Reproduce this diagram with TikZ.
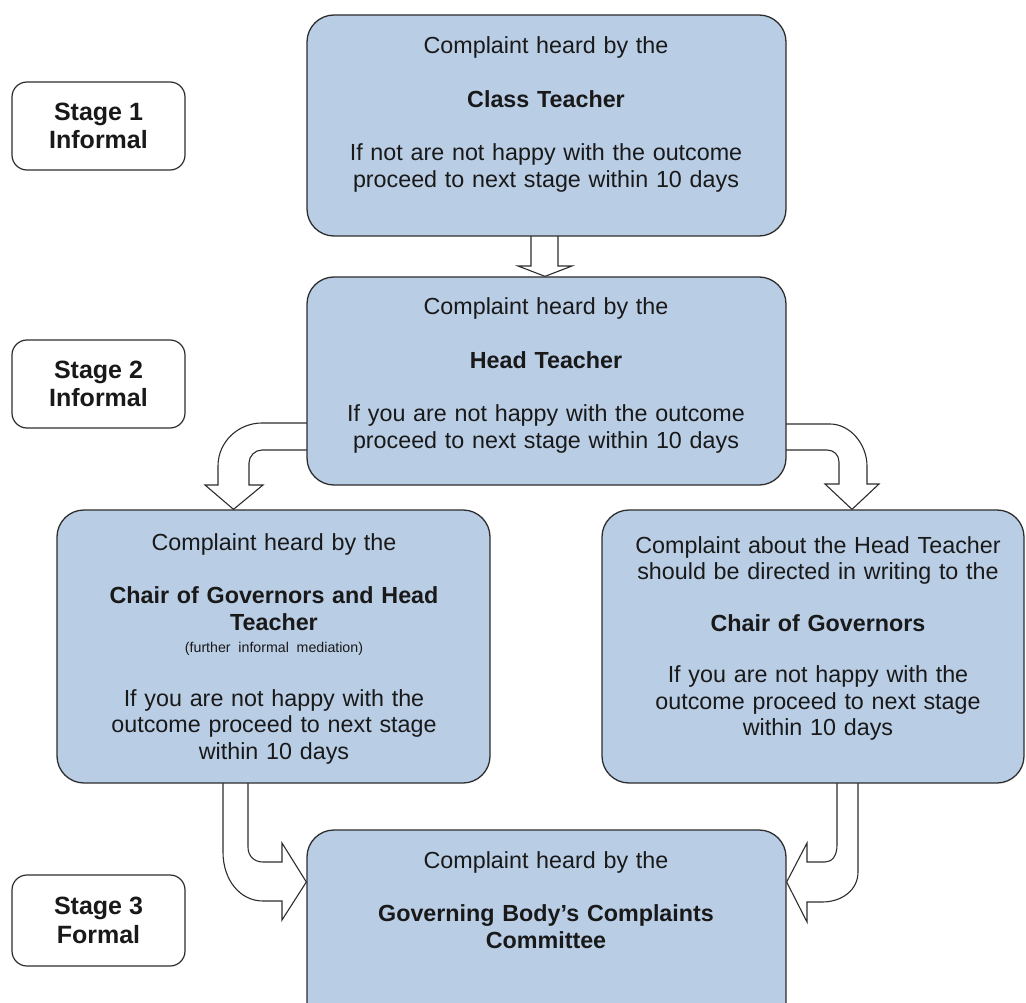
\documentclass[tikz,border=0pt]{standalone}
\usepackage{fontspec}
\setmainfont{Liberation Sans}
\usepackage{tikz}
\usetikzlibrary{backgrounds}
\definecolor{panelblue}{RGB}{185,205,229}
\definecolor{edgegray}{RGB}{45,45,45}
\definecolor{inkgray}{RGB}{25,25,25}
\newcommand{\boxsize}{\fontsize{23.3pt}{26.5pt}\selectfont}
\newcommand{\notesize}{\fontsize{14.2pt}{17pt}\selectfont}
\newcommand{\stagesize}{\fontsize{25pt}{28.5pt}\selectfont\bfseries}
\tikzset{
x=1pt, y=-1pt, % one unit is one pixel of the layout, y runs downwards
panel/.style={rectangle, draw=edgegray, fill=panelblue, line width=1.3pt, rounded corners=27pt, inner sep=0pt}, % the blue boxes
stagebox/.style={rectangle, draw=edgegray, fill=white, line width=1.2pt, rounded corners=15pt, minimum width=173pt, minimum height=88pt, inner sep=0pt, align=center, font=\stagesize, text=inkgray}, % the stage labels
boxtext/.style={anchor=base, inner sep=0pt, text width=440pt, align=center, font=\boxsize, text=inkgray}, % text set in a box
blockarrow/.style={draw=edgegray, fill=white, line width=1.1pt, line join=miter}, % hollow arrows
}
\begin{document}
\begin{tikzpicture}
  \clip (0,0) rectangle (1026,1003);

  % stages
  \node[stagebox] (stage1) at (98.5,126) {Stage 1\\Informal};
  \node[stagebox] (stage2) at (98.5,384) {Stage 2\\Informal};
  \node[stagebox, minimum height=91pt] (stage3) at (98.5,920.5) {Stage 3\\Formal};

  % boxes
  \node[panel, minimum width=479pt, minimum height=221pt] (class) at (546.5,125.5) {};
  \node[panel, minimum width=479pt, minimum height=208pt] (head) at (546.5,381) {};
  \node[panel, minimum width=433pt, minimum height=273pt] (chair) at (273.5,646.5) {};
  \node[panel, minimum width=422pt, minimum height=273pt] (gov) at (813,646.5) {};
  \node[panel, minimum width=479pt, minimum height=210pt] (committee) at (546.5,935) {};

  \node[boxtext] (class-txt) at (546,54) {Complaint heard by the\\[27pt]
    \textbf{Class Teacher}\\[27pt]
    If not are not happy with the outcome\\proceed to next stage within 10 days};
  \node[boxtext] (head-txt) at (546,315) {Complaint heard by the\\[27pt]
    \textbf{Head Teacher}\\[27pt]
    If you are not happy with the outcome\\proceed to next stage within 10 days};
  \node[boxtext] (chair-txt) at (274,550) {Complaint heard by the\\[27pt]
    \textbf{Chair of Governors and Head}\\\textbf{Teacher}\\[-4pt]
    {\notesize (further informal mediation)}\\[27pt]
    If you are not happy with the\\outcome proceed to next stage\\within 10 days};
  \node[boxtext] (gov-txt) at (818,553) {Complaint about the Head Teacher\\should be directed in writing to the\\[25pt]
    \textbf{Chair of Governors}\\[25pt]
    If you are not happy with the\\outcome proceed to next stage\\within 10 days};
  \node[boxtext] (committee-txt) at (546,868) {Complaint heard by the\\[27pt]
    \textbf{Governing Body's Complaints}\\\textbf{Committee}};

  % arrows
  \begin{scope}[on background layer]
    \draw[blockarrow] (531,226) -- (531,266) -- (518,266) -- (head.north -| 545,0)
      -- (572,266) -- (558,266) -- (558,226) -- cycle;
    \draw[blockarrow] (317,423) -- (262,423) .. controls (238,423) and (218,442) .. (218,466)
      -- (218,485) -- (205,485) -- (chair.north -| 233.5,0) -- (263,485) -- (249,485)
      -- (249,463) .. controls (249,456) and (255,450) .. (262,450) -- (317,450) -- cycle;
    \draw[blockarrow] (776,424) -- (830,424) .. controls (850,424) and (867,444) .. (867,466)
      -- (867,484) -- (879,484) -- (gov.north -| 852,0) -- (825,484) -- (839,484)
      -- (839,462) .. controls (839,455) and (834,450) .. (827,450) -- (776,450) -- cycle;
    \draw[blockarrow] (223,773) -- (223,852) .. controls (223,880) and (240,901) .. (263,901)
      -- (282,901) -- (282,920) -- (committee.west |- 0,882) -- (282,843) -- (282,862)
      -- (263,862) .. controls (254,862) and (248,856) .. (248,847) -- (248,773) -- cycle;
    \draw[blockarrow] (858,773) -- (858,872) .. controls (858,890) and (842,902) .. (822,902)
      -- (807,902) -- (807,922) -- (committee.east |- 0,882) -- (807,843) -- (807,862)
      -- (825,862) .. controls (832,862) and (837,856) .. (837,845) -- (837,773) -- cycle;
  \end{scope}
\end{tikzpicture}
\end{document}
